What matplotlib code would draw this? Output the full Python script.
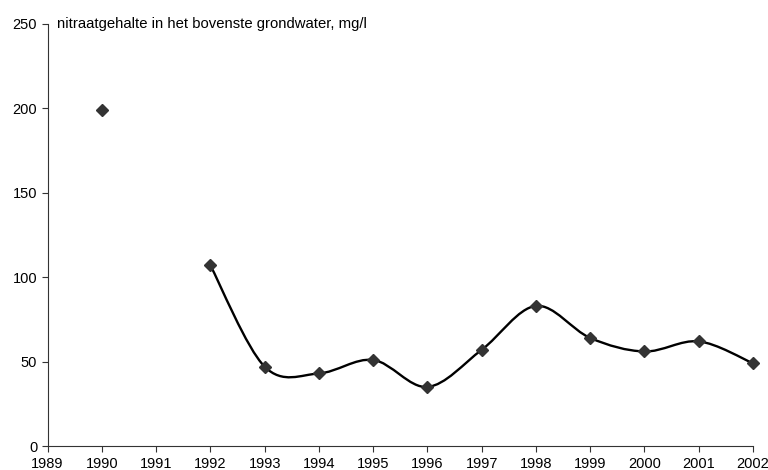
import numpy as np
import matplotlib.pyplot as plt
from matplotlib.path import Path
from matplotlib.patches import PathPatch

plt.rcParams['font.family'] = ['Liberation Sans', 'DejaVu Sans']

# nitraatgehalte per jaar (1991 ontbreekt)
jaren = [1990, 1992, 1993, 1994, 1995, 1996, 1997, 1998, 1999, 2000, 2001, 2002]
nitraat = [199, 107, 47, 43, 51, 35, 57, 83, 64, 56, 62, 49]
# de lijn loopt pas vanaf 1992
lijn_jaren = jaren[1:]
lijn_nitraat = nitraat[1:]

fig = plt.figure(figsize=(7.68, 4.70), dpi=100)
ax = fig.add_axes([0.062, 0.051, 0.9185, 0.898])

# gladde lijn zoals in Excel (bezier door de punten)
p = np.column_stack([lijn_jaren, lijn_nitraat]).astype(float)
n = len(p)
verts = [p[0]]
codes = [Path.MOVETO]
for i in range(n - 1):
    p0 = p[i - 1] if i > 0 else p[i]
    p3 = p[i + 2] if i + 2 < n else p[i + 1]
    c1 = p[i] + (p[i + 1] - p0) / 6
    c2 = p[i + 1] - (p3 - p[i]) / 6
    verts += [c1, c2, p[i + 1]]
    codes += [Path.CURVE4] * 3
ax.add_patch(PathPatch(Path(verts, codes), fill=False, color='black', lw=1.7, zorder=2))

ax.plot(jaren, nitraat, linestyle='none', marker='D', markersize=6.5,
        color='#333333', zorder=3, clip_on=False)

ax.set_xlim(1989, 2002)
ax.set_ylim(0, 250)
ax.set_xticks(range(1989, 2003))
ax.set_yticks(range(0, 251, 50))
ax.tick_params(labelsize=10.5, length=4, width=0.8, color='#333333')
ax.tick_params(axis='x', pad=4)
for s in ['top', 'right']:
    ax.spines[s].set_visible(False)
for s in ['left', 'bottom']:
    ax.spines[s].set_color('#333333')

ax.text(1989.18, 250, 'nitraatgehalte in het bovenste grondwater, mg/l',
        fontsize=10.7, va='center', ha='left')

fig.savefig('out.png', dpi=100)
